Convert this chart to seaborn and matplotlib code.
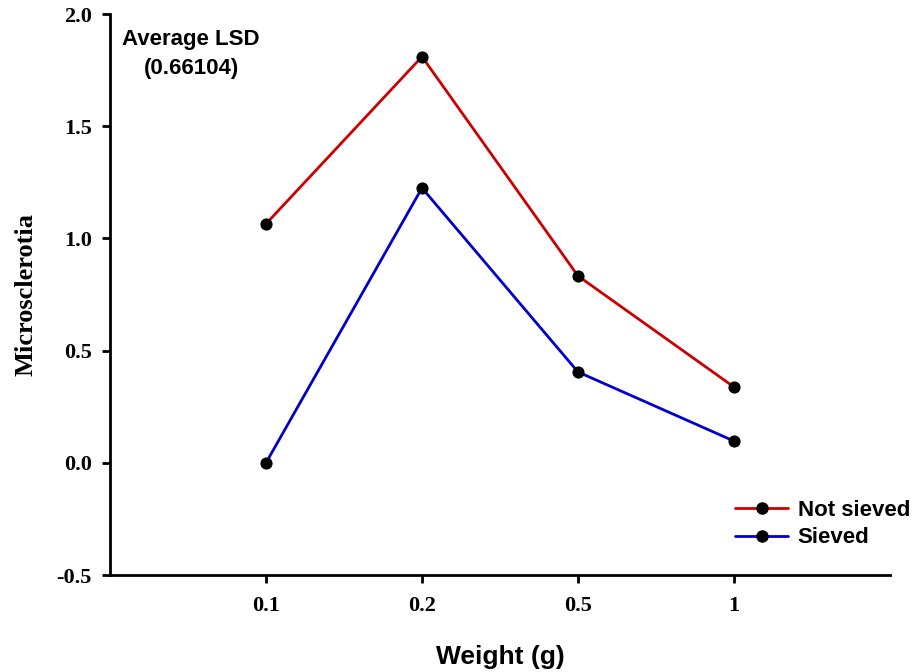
import pandas as pd
import seaborn as sns
import matplotlib.pyplot as plt
from matplotlib.lines import Line2D

weights = ["0.1", "0.2", "0.5", "1"]
not_sieved = [1.065, 1.81, 0.833, 0.338]
sieved = [0.0, 1.225, 0.405, 0.097]
groups = ["Not sieved", "Sieved"]
colors = {"Not sieved": "#cc0000", "Sieved": "#0000cc"}

df = pd.DataFrame({
    "Weight": weights * 2,
    "Microsclerotia": not_sieved + sieved,
    "Group": [groups[0]] * 4 + [groups[1]] * 4,
})

sns.set_style("ticks")
plt.rcParams["text.color"] = "black"
plt.rcParams["axes.labelcolor"] = "black"
plt.rcParams["xtick.color"] = "black"
plt.rcParams["ytick.color"] = "black"

fig = plt.figure(figsize=(9.19, 6.72), dpi=100)
ax = fig.add_axes([0.1197, 0.1443, 0.8487, 0.8348])

sns.lineplot(data=df, x="Weight", y="Microsclerotia", hue="Group", palette=colors,
             marker="o", markersize=8, markerfacecolor="black", markeredgecolor="black",
             linewidth=2, legend=False, ax=ax)

ax.set_xlim(-1, 4)
ax.set_ylim(-0.5, 2.0)
ax.set_yticks([-0.5, 0.0, 0.5, 1.0, 1.5, 2.0])
ax.set_yticklabels(["-0.5", "0.0", "0.5", "1.0", "1.5", "2.0"])
sns.despine(ax=ax)
for s in ["left", "bottom"]:
    ax.spines[s].set_linewidth(2)
    ax.spines[s].set_color("black")
ax.tick_params(axis="both", width=2, length=6, color="black", labelcolor="black")
for lab in ax.get_xticklabels() + ax.get_yticklabels():
    lab.set_family("Liberation Serif")
    lab.set_weight("bold")
    lab.set_fontsize(16)
ax.tick_params(axis="x", pad=9)
ax.tick_params(axis="y", pad=7)

ax.set_xlabel("Weight (g)", family="Liberation Sans", weight="bold", fontsize=19, labelpad=21)
ax.set_ylabel("Microsclerotia", family="Liberation Serif", weight="bold", fontsize=19, labelpad=14)

ax.text(-0.48, 1.822, "Average LSD\n(0.66104)", ha="center", va="center",
        family="Liberation Sans", weight="bold", fontsize=16, linespacing=1.45)

handles = [Line2D([0], [0], color=colors[g], lw=2, marker="o", markersize=8,
                  markerfacecolor="black", markeredgecolor="black") for g in groups]
leg = fig.legend(handles, groups, loc="upper right", bbox_to_anchor=(1.012, 0.286),
                 frameon=False, handlelength=2.35, handletextpad=0.45, labelspacing=0.3,
                 prop={"family": "Liberation Sans", "weight": "bold", "size": 16})

fig.savefig("out.png", dpi=100)
